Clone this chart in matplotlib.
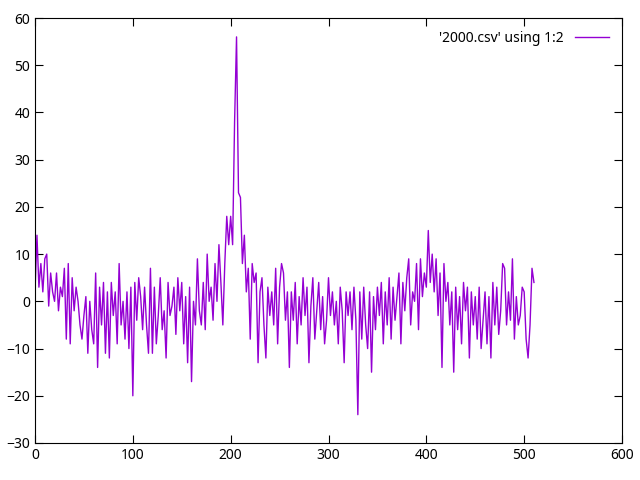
import numpy as np
import matplotlib.pyplot as plt

# values, one every 2 units of x
y_vals = [
    2, 14, 3, 8, 2, 9, 10, -1, 6, 2,
    0, 6, -2, 3, 1, 7, -8, 8, -9, 5,
    -2, 3, 0, -5, -8, -3, 1, -11, 0, -6,
    -9, 6, -14, 3, -5, 4, -11, 2, -12, 4,
    -3, 2, -9, 8, -5, 0, -8, 2, -10, 3,
    -20, 4, -4, 5, 1, -6, 3, -5, -11, 7,
    -11, 3, -9, -3, 5, -6, -2, -12, 4, -3,
    -1, 3, -7, 5, -2, 4, -9, 1, -13, 3,
    -17, 0, -5, 9, -2, -5, 4, -6, 10, 0,
    3, -4, 8, 0, 12, 4, -5, 8, 18, 12,
    18, 12, 38, 56, 23, 22, 8, 14, 2, 7,
    -8, 8, 4, 6, -13, 2, 5, -5, -12, 3,
    -3, 2, -5, 7, -9, 3, 8, 6, -4, 2,
    -14, 2, -4, 4, -9, 1, -5, 5, -3, 3,
    -13, -1, 5, -8, -2, 4, -6, 1, -9, -4,
    5, -3, 2, -5, 0, -9, 3, -2, -13, 2,
    -3, 2, -6, 3, -4, -24, 2, -8, 3, -5,
    -10, 2, -15, 1, -6, 3, -3, 4, -9, 2,
    -5, 5, -8, 3, -4, 1, 6, -9, 4, -2,
    5, 9, -5, 2, 0, 8, -6, 9, 1, 6,
    3, 15, 4, 10, 2, 9, -3, 6, -14, 8,
    0, 4, -5, 2, -15, 3, -6, 1, -9, 4,
    -2, 3, -12, 2, -5, 1, -8, 3, -10, -4,
    2, -9, 1, -12, 4, -5, 3, -7, -2, 8,
    7, -5, 2, -4, 9, -8, 1, -5, -3, 3,
    2, -8, -12, -5, 7, 4,
]
x_vals = np.arange(len(y_vals)) * 2

plt.rcParams["font.family"] = "Noto Sans"
fig = plt.figure(figsize=(6.4, 4.8), dpi=100)
ax = fig.add_axes([35 / 640, 1 - 443 / 480, 587 / 640, 425 / 480])
ax.plot(x_vals, y_vals, color="#9400D3", lw=1, label="'2000.csv' using 1:2")
ax.set_xlim(0, 600)
ax.set_ylim(-30, 60)
ax.set_xticks(range(0, 601, 100))
ax.set_yticks(range(-30, 61, 10))
ax.tick_params(direction="in", top=True, right=True, labelsize=10, length=6)
ax.legend(loc="upper right", frameon=False, markerfirst=False, fontsize=10,
          handlelength=2.5)
fig.savefig("out.png")
